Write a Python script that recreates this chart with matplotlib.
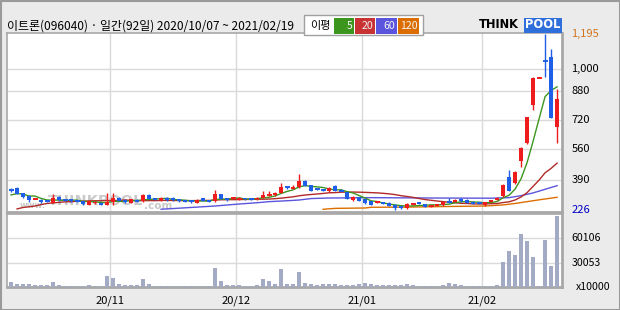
import matplotlib
matplotlib.use('Agg')
import matplotlib.pyplot as plt
import numpy as np
import pandas as pd
from matplotlib.patches import Rectangle
from matplotlib.transforms import blended_transform_factory

plt.rcParams['font.family'] = ['Noto Sans CJK KR', 'DejaVu Sans']

# ---------------- data ----------------
title = '이트론(096040) · 일간(92일) 2020/10/07 ~ 2021/02/19'
month_labels = ['20/11', '20/12', '21/01', '21/02']
month_start_idx = [17, 38, 59, 79]
legend_label = '이평'
ma_labels = ['5', '20', '60', '120']

open_ = [337, 347, 320, 305, 287, 283, 276, 263, 299, 282,
         287, 277, 276, 256, 263, 266, 254, 272, 294, 283,
         266, 282, 274, 309, 291, 281, 294, 293, 287, 281,
         277, 266, 290, 281, 274, 314, 292, 290, 285, 292,
         287, 285, 292, 303, 307, 321, 353, 343, 351, 387,
         364, 342, 338, 328, 358, 336, 324, 281, 296, 285,
         276, 268, 270, 267, 256, 248, 235, 258, 270, 259,
         245, 248, 252, 272, 270, 289, 283, 272, 266, 251,
         270, 281, 302, 407, 373, 497, 593, 804, 951, 1050,
         1070, 685]
high = [349, 350, 322, 307, 293, 285, 283, 313, 301, 287,
        289, 281, 278, 281, 274, 268, 318, 318, 297, 285,
        288, 285, 315, 312, 294, 300, 296, 295, 289, 283,
        280, 287, 293, 283, 336, 316, 294, 294, 298, 294,
        292, 296, 331, 331, 323, 372, 358, 364, 424, 391,
        366, 347, 342, 350, 361, 339, 326, 301, 298, 287,
        278, 274, 272, 269, 259, 250, 263, 264, 272, 261,
        253, 261, 272, 292, 285, 291, 285, 274, 270, 272,
        283, 296, 367, 446, 441, 572, 740, 956, 955, 1195,
        1113, 892]
low = [324, 313, 290, 268, 284, 262, 268, 262, 276, 276,
       271, 271, 254, 253, 261, 253, 251, 253, 274, 265,
       263, 268, 270, 284, 279, 278, 278, 277, 272, 270,
       263, 264, 275, 270, 272, 285, 277, 287, 281, 283,
       281, 283, 290, 301, 305, 319, 342, 341, 348, 356,
       328, 334, 330, 326, 329, 328, 285, 278, 274, 257,
       254, 265, 257, 246, 226, 232, 233, 254, 257, 242,
       242, 246, 250, 265, 268, 272, 263, 257, 259, 249,
       268, 279, 300, 328, 370, 461, 590, 777, 951, 960,
       730, 593]
close = [334, 316, 296, 279, 289, 268, 273, 294, 279, 280,
         274, 275, 257, 278, 272, 255, 272, 292, 277, 268,
         285, 270, 310, 287, 281, 294, 280, 279, 274, 272,
         275, 281, 277, 272, 314, 287, 281, 292, 288, 285,
         285, 294, 310, 306, 321, 354, 350, 354, 386, 358,
         331, 339, 335, 347, 332, 333, 288, 299, 276, 263,
         256, 270, 259, 248, 237, 235, 261, 260, 259, 244,
         248, 259, 270, 270, 283, 274, 265, 259, 263, 269,
         280, 292, 364, 331, 437, 567, 736, 951, 951, 1047,
         734, 837]
volume = [6200, 3700, 3700, 3700, 2900, 2900, 2900, 6200, 2500, 1200,
          1200, 1200, 1200, 2500, 1200, 1200, 13600, 11100, 3300, 2900,
          2900, 2900, 9900, 3700, 1200, 1200, 1200, 1200, 1200, 1200,
          1200, 1200, 1200, 1200, 23500, 7400, 2500, 2500, 2500, 1200,
          1200, 2900, 10300, 7400, 3700, 22200, 3700, 3700, 18500, 4900,
          3700, 2900, 3700, 3700, 3700, 2900, 2900, 2900, 4100, 4900,
          3700, 2900, 2900, 2900, 2900, 2900, 3700, 2900, 1200, 1200,
          1200, 1200, 2900, 4900, 3700, 2900, 1200, 1200, 1200, 1200,
          1200, 2500, 30900, 44500, 39500, 65500, 56800, 37000, 1200, 58000,
          26000, 88000]

ma5_head = [309, 316, 314, 303]                       # idx 0-3
ma20_head = [232, 240, 244, 248, 256, 262, 265, 268, 271,
             272, 274, 275, 276, 277, 277, 278, 278, 279]   # idx 1-18
ma60_idx = [25, 28, 31, 34, 38, 41, 43, 46, 48, 50, 53, 60, 70, 80, 83, 85, 87, 89, 91]
ma60_val = [230, 236, 242, 248, 259, 266, 272, 277, 281, 289, 292, 294, 292, 291, 294, 305, 320, 340, 360]
ma120_idx = [52, 54, 59, 60, 66, 72, 79, 82, 84, 86, 88, 91]
ma120_val = [230, 235, 237, 241, 242, 245, 248, 254, 262, 272, 282, 296]

price_tick_vals = [1000, 880, 720, 560, 390]
price_tick_labels = ['1,000', '880', '720', '560', '390']
max_label, min_label = '1,195', '226'
vol_tick_vals = [30053, 60106]
vol_tick_labels = ['30053', '60106']
vol_unit = 'x10000'

# ---------------- styling ----------------
RED = '#ee1c1c'
BLUE = '#1f5ee6'
C5, C20, C60, C120 = '#3c961e', '#b22a2a', '#5a55dc', '#dc6e00'
GRID = '#dadada'
FRAME = '#a8a8a8'
W, H = 620, 310

def fbox(x0, y0, x1, y1):
    return [x0 / W, 1 - y1 / H, (x1 - x0) / W, (y1 - y0) / H]

fig = plt.figure(figsize=(6.2, 3.1), dpi=100)
fig.patch.set_facecolor('#ebebeb')

ax = fig.add_axes(fbox(7, 33, 562, 212))
axv = fig.add_axes(fbox(7, 214, 562, 287), sharex=ax)

o = np.array(open_, float); h = np.array(high, float)
l = np.array(low, float); c = np.array(close, float)
x = np.arange(len(c))
cols = [RED if cc >= oo else BLUE for oo, cc in zip(o, c)]

# moving averages
s = pd.Series(c)
ma5 = s.rolling(5).mean().to_numpy()
ma5[:4] = ma5_head
ma20 = s.rolling(20).mean().to_numpy()
ma20[1:19] = ma20_head

ax.plot(x, ma5, color=C5, lw=1.0, zorder=2.6)
ax.plot(x, ma20, color=C20, lw=1.0, zorder=2.5)
ax.plot(ma60_idx, ma60_val, color=C60, lw=1.0, zorder=2.4)
ax.plot(ma120_idx, ma120_val, color=C120, lw=1.0, zorder=2.3)

# candles
ax.vlines(x, l, h, colors=cols, lw=1.0, zorder=3)
bh = np.abs(c - o)
bb = np.minimum(o, c)
big = bh >= 6
ax.bar(x[big], bh[big], bottom=bb[big], width=0.72, color=np.array(cols)[big],
       linewidth=0, zorder=4)
small = ~big
ax.hlines(c[small], x[small] - 0.42, x[small] + 0.42,
          colors=np.array(cols)[small], lw=1.4, zorder=4)

# watermark
def px(xp, yp):
    return ((xp - 7) / 555, (212 - yp) / 179)
ax.text(*px(20, 206), 'www.', transform=ax.transAxes,
        fontsize=6, color='#c8c8c8', fontweight='bold', va='center', ha='left',
        zorder=1, family='DejaVu Sans')
ax.text(*px(48, 201), 'THINKPOOL', transform=ax.transAxes,
        fontsize=10.4, color='#cacaca', fontweight='bold', va='center', ha='left',
        zorder=1, family='DejaVu Sans')
ax.text(*px(144, 206), '.com', transform=ax.transAxes,
        fontsize=7.5, color='#c8c8c8', fontweight='bold', va='center', ha='left',
        zorder=1, family='DejaVu Sans')

ax.set_ylim(215, 1200.5)
ax.set_xlim(-0.68, 91.82)
grid_x = [m - 0.5 for m in month_start_idx]

for a in (ax, axv):
    a.set_facecolor('white')
    for sp in a.spines.values():
        sp.set_color(FRAME)
        sp.set_linewidth(1.2)
    a.spines['bottom'].set_linewidth(2)
    a.spines['right'].set_linewidth(2)
    a.set_xticks(grid_x)
    a.grid(True, color=GRID, lw=1, zorder=0)
    a.set_axisbelow(True)
    a.tick_params(left=False, right=False, labelleft=False, length=0)

ax.set_yticks(price_tick_vals)
ax.tick_params(labelbottom=False)

tr = blended_transform_factory(ax.transAxes, ax.transData)
for v, t in zip(price_tick_vals, price_tick_labels):
    ax.text(1.017, v, t, transform=tr, fontsize=8, va='center', ha='left', color='black')
ax.text(1.017, max(high), max_label, transform=tr, fontsize=8, va='center', ha='left',
        color='#d2731e')
ax.text(1.017, min(low), min_label, transform=tr, fontsize=8, va='center', ha='left',
        color='#0000c8')

# volume
axv.bar(x, volume, width=0.8, color='#a3aac3', linewidth=0, zorder=3)
axv.set_ylim(0, 90280)
axv.set_yticks(vol_tick_vals)
axv.set_xticklabels(month_labels, fontsize=8)
axv.tick_params(axis='x', pad=6)
trv = blended_transform_factory(axv.transAxes, axv.transData)
for v, t in zip(vol_tick_vals, vol_tick_labels):
    axv.text(1.017, v, t, transform=trv, fontsize=7.6, va='center', ha='left')
axv.text(1.025, 0, vol_unit, transform=trv, fontsize=7.6, va='center', ha='left')

# overlay in pixel coordinates for header items
ov = fig.add_axes([0, 0, 1, 1], facecolor='none', zorder=10)
ov.set_xlim(0, W); ov.set_ylim(H, 0); ov.axis('off')
ov.add_patch(Rectangle((0.5, 0.5), W - 1, H - 1, fill=False, ec='#9a9a9a', lw=1.5))
ov.text(7, 26, title, fontsize=8.6, va='center', ha='left', color='black')

ov.add_patch(Rectangle((303.5, 15), 119.5, 20, fc='white', ec='#a0a0a0', lw=1))
ov.text(310, 25.5, legend_label, fontsize=8, va='center', ha='left')
boxes = [(334, 354, C5), (354.5, 375, '#c83232'), (375.5, 396.5, C60), (397.5, 419, C120)]
for (x0, x1, col), lab in zip(boxes, ma_labels):
    ov.add_patch(Rectangle((x0, 18), x1 - x0, 16, fc=col, ec='none'))
    ov.text(x1 - 1.5, 26, lab, fontsize=7.6, va='center', ha='right', color='#f4f4f4')

# logo
ov.text(479, 25, 'THINK', fontsize=8.3, fontweight='bold', va='center', ha='left',
        color='black', family='DejaVu Sans')
ov.add_patch(Rectangle((524, 17.5), 38, 15, fc='#2f6fdc', ec='none'))
ov.text(543, 25, 'POOL', fontsize=8.3, fontweight='bold', va='center', ha='center',
        color='white', family='DejaVu Sans')

fig.savefig('out.png', dpi=100, facecolor=fig.get_facecolor())
